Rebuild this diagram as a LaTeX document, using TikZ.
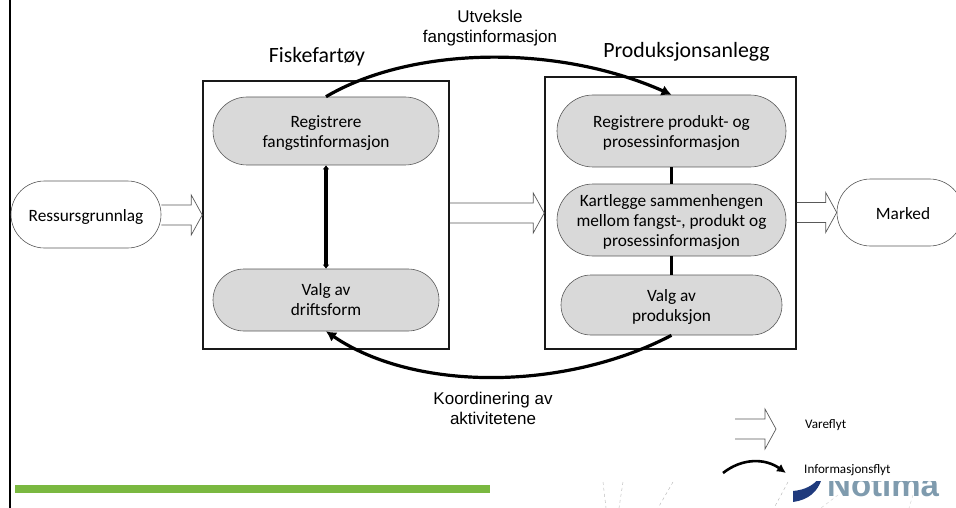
\documentclass[tikz,border=0pt]{standalone}
\usepackage{fontspec}
\setmainfont{Carlito}
\newfontfamily\arialfont{Liberation Sans}
\usetikzlibrary{shapes.misc, arrows.meta, calc}
\definecolor{stepgray}{HTML}{D9D9D9}
\definecolor{bargreen}{HTML}{7AB840}
\definecolor{logogray}{HTML}{7F9BAE}
\definecolor{logoblue}{HTML}{1F3A7D}
\newcommand{\topgap}{\rule{0pt}{16pt}}
\tikzset{
stage/.style={rounded rectangle, draw=black!65, line width=0.6pt, fill=stepgray, inner sep=0pt, align=center,
  font=\fontsize{17.3}{20}\selectfont},
endstage/.style={stage, fill=white},
frame/.style={draw=black!90, line width=1.5pt, inner sep=0pt},
heading/.style={font=\fontsize{21.8}{24}\selectfont, inner sep=0pt},
remark/.style={font=\arialfont\fontsize{17}{20}\selectfont, align=center, inner sep=0pt},
legendtext/.style={font=\fontsize{13.1}{14}\selectfont, anchor=west, inner sep=0pt},
infoline/.style={line width=3.2pt, -{Latex[length=10pt,width=11pt]}},
flowarrow/.style={draw=black!65, line width=0.7pt, to path={
  let \p1=(\tikztostart), \p2=(\tikztotarget) in
  (\x1,\y2+10pt) -- (\x2-11pt,\y2+10pt) -- (\x2-11pt,\y2+20pt) -- (\tikztotarget)
  -- (\x2-11pt,\y2-20pt) -- (\x2-11pt,\y2-10pt) -- (\x1,\y2-10pt)}}
}
\begin{document}
\begin{tikzpicture}[x=1pt, y=-1pt]
  \useasboundingbox (0,0) rectangle (956,508);
  \draw[line width=2.8pt] (10,0) -- (10,508);
  % frames
  \node[frame, minimum width=246pt, minimum height=268pt] (fartoy) at (326,215) {};
  \node[frame, minimum width=251pt, minimum height=272pt] (anlegg) at (670.5,213) {};
  \node[heading] (fartoyname) at (317,57) {Fiskefart\o y};
  \node[heading] (anleggname) at (686.5,52) {Produksjonsanlegg};
  % stages
  \node[stage, minimum width=226pt, minimum height=68pt] (regfangst) at (326,131) {\topgap Registrere\\fangstinformasjon};
  \node[stage, minimum width=226pt, minimum height=62pt] (valgdrift) at (326,300) {Valg av\\driftsform};
  \node[stage, minimum width=229pt, minimum height=72pt] (regprod) at (671.5,131) {\topgap Registrere produkt- og\\prosessinformasjon};
  \node[stage, minimum width=229pt, minimum height=72pt] (kartlegg) at (671.5,220) {\topgap Kartlegge sammenhengen\\mellom fangst-, produkt og\\prosessinformasjon};
  \node[stage, minimum width=221pt, minimum height=60pt] (valgprod) at (671.5,305) {\topgap Valg av\\produksjon};
  \node[endstage, minimum width=150pt, minimum height=67pt] (ressurs) at (86,214.5) {\topgap Ressursgrunnlag};
  \node[endstage, minimum width=126pt, minimum height=67pt] (marked) at (900,212.5) {};
  \node[inner sep=0pt, font=\fontsize{17.3}{20}\selectfont] (markedname) at (903,213.5) {Marked};
  % vareflyt
  \draw[flowarrow] (ressurs.east) to (fartoy.west);
  \draw[flowarrow] (fartoy.east) to (anlegg.west);
  \draw[flowarrow] (anlegg.east) to (marked.west);
  % informasjonsflyt
  \draw[infoline] (regfangst.north) .. controls (410,47) and (555,43) .. (regprod.north);
  \draw[infoline] (valgprod.south) .. controls (565,391) and (415,392) .. (valgdrift.south);
  \draw[line width=3.4pt, {Latex[length=4pt,width=7pt]}-{Latex[length=4pt,width=7pt]}] (regfangst.south) -- (valgdrift.north);
  \draw[line width=3.4pt] (regprod.south) -- (kartlegg.north);
  \draw[line width=3.4pt] (kartlegg.south) -- (valgprod.north);
  \node[remark] (utveksle) at (490,28) {Utveksle\\fangstinformasjon};
  \node[remark] (koordinering) at (493,408) {Koordinering av\\aktivitetene};
  % legend
  \coordinate (vareend) at (735,429);
  \coordinate (varetip) at (776,429);
  \draw[flowarrow] (vareend) to (varetip);
  \node[legendtext] (varename) at (805,425) {Vareflyt};
  \coordinate (infoend) at (723,473);
  \coordinate (infotip) at (786,473);
  \draw[line width=2.6pt, -{Latex[length=9pt,width=9pt]}] (infoend) .. controls (742,458) and (765,458) .. (infotip);
  \node[legendtext] (infoname) at (804,470) {Informasjonsflyt};
  % footer
  \fill[bargreen] (15,485) rectangle (490,493);
  \foreach \xa/\xb in {603/606, 623/619, 673/658, 788/774} {
    \draw[black!30, dashed, line width=0.4pt] (\xa,482) -- (\xb,508);
  }
  \draw[black!20, dashed, line width=0.4pt] (838,495) -- (821,508);
  \draw[black!20, dashed, line width=0.4pt] (913,495) -- (909,508);
  \begin{scope}
    \clip (780,481) rectangle (956,508);
    \fill[logoblue] (793,502) -- (793,491) .. controls (805,490) and (814,485) .. (819,478)
      -- (822,478) .. controls (818,492) and (808,500) .. (793,502) -- cycle;
    \node[anchor=base west, inner sep=0pt, text=logogray, font=\arialfont\bfseries\fontsize{33}{33}\selectfont] (logo) at (827,496) {Notima};
  \end{scope}
\end{tikzpicture}
\end{document}
